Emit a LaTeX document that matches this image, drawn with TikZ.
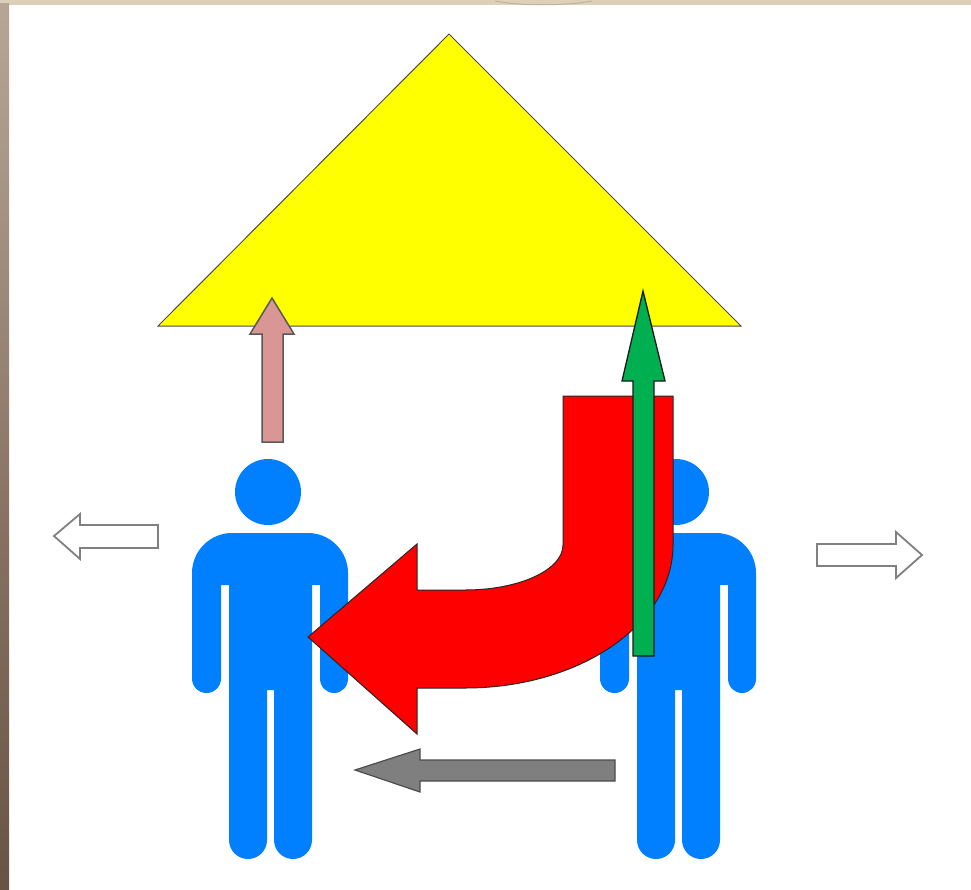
\documentclass[tikz,border=0pt]{standalone}
\pgfdeclareverticalshading{woodstrip}{100bp}{
  rgb(0bp)=(0.37,0.25,0.18);
  rgb(6.2bp)=(0.44,0.31,0.20);
  rgb(11bp)=(0.31,0.22,0.16);
  rgb(27bp)=(0.42,0.34,0.28);
  rgb(45bp)=(0.53,0.44,0.38);
  rgb(66bp)=(0.66,0.59,0.53);
  rgb(85bp)=(0.78,0.71,0.65);
  rgb(100bp)=(0.83,0.77,0.69)}
\definecolor{personblue}{RGB}{0,128,255}
\definecolor{roofyellow}{RGB}{255,255,0}
\definecolor{bigred}{RGB}{255,0,0}
\definecolor{upgreen}{RGB}{0,176,80}
\definecolor{uppink}{RGB}{217,150,148}
\definecolor{midgray}{RGB}{127,127,127}
\definecolor{edgegray}{RGB}{128,128,128}
\definecolor{topbeige}{RGB}{222,208,184}
\definecolor{toparc}{RGB}{190,178,160}
\newcommand{\personshape}{
  \fill[personblue] (268,492) circle[radius=33pt];
  \fill[personblue] (192,573) .. controls (192,551) and (210,533) .. (232,533)
    -- (308,533) .. controls (330,533) and (348,551) .. (348,573)
    -- (348,678.5) .. controls (348,686.5) and (342,693) .. (334,693)
    .. controls (326,693) and (320,686.5) .. (320,678.5)
    -- (320,585) -- (312,585) -- (312,840)
    .. controls (312,850.5) and (303.5,859) .. (293,859)
    .. controls (282.5,859) and (274,850.5) .. (274,840)
    -- (274,690) -- (267,690) -- (267,840)
    .. controls (267,850.5) and (258.5,859) .. (248,859)
    .. controls (237.5,859) and (229,850.5) .. (229,840)
    -- (229,585) -- (221,585) -- (221,678.5)
    .. controls (221,686.5) and (214.5,693) .. (206.5,693)
    .. controls (198.5,693) and (192,686.5) .. (192,678.5) -- cycle;
}
\tikzset{
  hollowarrow/.style={draw=edgegray,fill=white,line width=1.8pt,line join=miter},
  roofshape/.style={draw=black!70,fill=roofyellow,line width=1pt,line join=miter},
  redarrow/.style={draw=black!85,fill=bigred,line width=1pt,line join=miter},
  greenarrow/.style={draw=black!90,fill=upgreen,line width=1.3pt,line join=miter},
  pinkarrow/.style={draw=black!65,fill=uppink,line width=1.5pt,line join=miter},
  grayarrow/.style={draw=black!70,fill=midgray,line width=1.2pt,line join=miter}
}
\begin{document}
\begin{tikzpicture}[x=1pt,y=-1pt]
\useasboundingbox (0,0) rectangle (971,889);
\fill[white] (0,0) rectangle (971,889);
% backdrop
\fill[topbeige] (0,0) rectangle (971,5);
\draw[toparc,line width=1pt] (495,1) .. controls (520,6) and (565,6) .. (592,1);
\shade[shading=woodstrip] (0,3) rectangle (9,889);
% people
\personshape
\begin{scope}[xshift=408pt]
\personshape
\end{scope}
% roof
\draw[roofshape] (449,34) -- (741,326) -- (158,326) -- cycle;
% side arrows
\draw[hollowarrow] (54,536) -- (80,514) -- (80,525) -- (158,525) -- (158,548) -- (80,548) -- (80,559) -- cycle;
\draw[hollowarrow] (922,555) -- (896,532) -- (896,544) -- (817,544) -- (817,566) -- (896,566) -- (896,578) -- cycle;
% pink arrow
\draw[pinkarrow] (272,298) -- (294,334) -- (283,334) -- (283,442) -- (262,442) -- (262,334) -- (250,334) -- cycle;
% gray arrow
\draw[grayarrow] (355,770) -- (420,749) -- (420,760) -- (615,760) -- (615,781) -- (420,781) -- (420,792) -- cycle;
% red bent arrow
\draw[redarrow] (563,396) -- (673,396) -- (673,545)
  .. controls (673,624) and (580,688) .. (465,688)
  -- (417,688) -- (417,734) -- (308,637) -- (417,544) -- (417,590) -- (465,590)
  .. controls (519,590) and (563,570) .. (563,545) -- cycle;
% green arrow
\draw[greenarrow] (643,291) -- (665,381) -- (654,381) -- (654,656) -- (633,656) -- (633,381) -- (622,381) -- cycle;
\end{tikzpicture}
\end{document}
